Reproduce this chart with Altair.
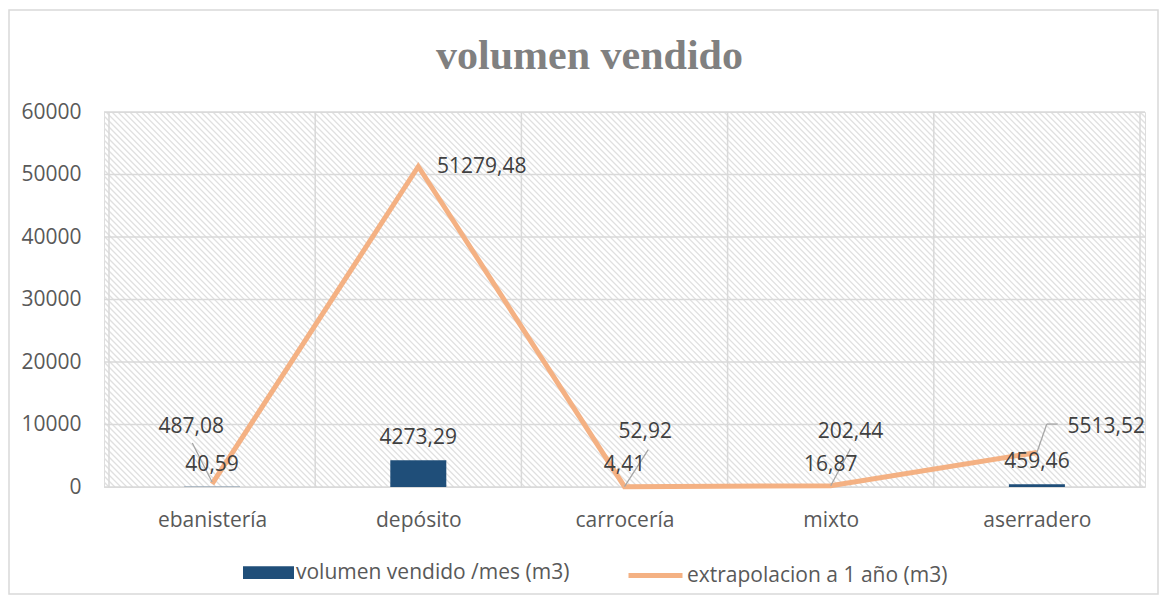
import json
import altair as alt
import pandas as pd

# ---------------- data ----------------
categories = ["ebanistería", "depósito", "carrocería", "mixto", "aserradero"]
monthly = [40.59, 4273.29, 4.41, 16.87, 459.46]        # volumen vendido /mes (m3)
yearly = [487.08, 51279.48, 52.92, 202.44, 5513.52]    # extrapolacion a 1 año (m3)
series_names = ["volumen vendido /mes (m3)", "extrapolacion a 1 año (m3)"]
y_ticks = [0, 10000, 20000, 30000, 40000, 50000, 60000]
chart_title = "volumen vendido"

# ---------------- style / layout ----------------
W, H = 1041, 375
Y_MAX = 60000
N = len(categories)
PX_X = W / N            # pixels per category unit
UNIT_Y = Y_MAX / H      # data units per pixel

BLUE = "#1f4e79"
ORANGE = "#f4b183"
GRID = "#d9d9d9"
HATCH = "#e0e0e0"
AXIS_TXT = "#595959"
LBL_TXT = "#404040"
FONT = "Open Sans"
FS = 21

bar_label_dy = -22
# label offsets (px) of the yearly labels, relative to the line points
yearly_label_off = [(-21, -57), (64, 0), (21, -55), (20, -54), (70, -26)]
# leader lines (px, relative to the line point)
leaders = {
    0: [((0, -2), (-20, -41))],
    2: [((0, 0), (24, -37))],
    3: [((0, 0), (20, -37))],
    4: [((0, 0), (10, -28.5)), ((10, -28.5), (21, -28.5))],
}


def fmt(v):
    return f"{v:.2f}".replace(".", ",")


base_df = pd.DataFrame({"idx": list(range(N)), "cat": categories,
                        "monthly": monthly, "yearly": yearly})

x_scale = alt.Scale(domain=[-0.5, N - 0.5], nice=False, zero=False)
y_scale = alt.Scale(domain=[0, Y_MAX], nice=False)

label_expr = json.dumps(categories, ensure_ascii=False) + "[datum.value]"

x_axis = alt.Axis(values=list(range(N)), labelExpr=label_expr, grid=False,
                  ticks=False, tickSize=0, domain=False, title=None,
                  labelFont=FONT, labelFontSize=FS, labelColor=AXIS_TXT,
                  labelPadding=22, orient="bottom")
y_axis = alt.Axis(values=y_ticks, format="d", grid=False, ticks=False,
                  tickSize=0, domain=False, title=None, labelFont=FONT,
                  labelFontSize=FS, labelColor=AXIS_TXT, labelPadding=23,
                  orient="left")

# hatch texture (background decoration)
step = 6
rows = []
k = 0
while k * step - H <= W:
    x0 = k * step - H
    rows.append({"hx": -0.5 + x0 / PX_X, "hx2": -0.5 + (x0 + H) / PX_X,
                 "hy": Y_MAX, "hy2": 0})
    k += 1
hatch_df = pd.DataFrame(rows)
hatch = alt.Chart(hatch_df).mark_rule(color=HATCH, strokeWidth=1.3, clip=True).encode(
    x=alt.X("hx:Q", scale=x_scale, axis=x_axis),
    x2="hx2:Q",
    y=alt.Y("hy:Q", scale=y_scale, axis=y_axis),
    y2="hy2:Q",
)

vgrid_df = pd.DataFrame({"b": [i - 0.5 for i in range(N + 1)]})
vgrid = alt.Chart(vgrid_df).mark_rule(color=GRID, strokeWidth=1.5).encode(
    x=alt.X("b:Q", scale=x_scale)
)
hgrid_df = pd.DataFrame({"t": y_ticks})
hgrid = alt.Chart(hgrid_df).mark_rule(color=GRID, strokeWidth=1.5).encode(
    y=alt.Y("t:Q", scale=y_scale)
)

bar_legend = alt.Legend(
    orient="none", legendX=139, legendY=435, title=None,
    symbolType="M-1,-0.25H1V0.25H-1Z", symbolSize=2601, symbolStrokeWidth=0,
    labelFont=FONT, labelFontSize=FS, labelColor=AXIS_TXT, labelOffset=2,
    labelLimit=500,
)
line_legend = alt.Legend(
    orient="none", legendX=522, legendY=434, title=None,
    symbolType="stroke", symbolSize=2916, symbolStrokeWidth=5,
    labelFont=FONT, labelFontSize=FS, labelColor=AXIS_TXT, labelOffset=2,
    labelLimit=500,
)

bar_df = base_df.assign(serie=series_names[0])
bars = alt.Chart(bar_df).mark_bar(size=56).encode(
    x=alt.X("idx:Q", scale=x_scale),
    y=alt.Y("monthly:Q", scale=y_scale),
    fill=alt.Fill("serie:N", scale=alt.Scale(domain=[series_names[0]], range=[BLUE]),
                  legend=bar_legend),
)

line_df = base_df.assign(serie=series_names[1])
line = alt.Chart(line_df).mark_line(strokeWidth=5, strokeJoin="miter", strokeCap="butt").encode(
    x=alt.X("idx:Q", scale=x_scale),
    y=alt.Y("yearly:Q", scale=y_scale),
    stroke=alt.Stroke("serie:N", scale=alt.Scale(domain=[series_names[1]], range=[ORANGE]),
                      legend=line_legend),
)

seg_rows = []
for i, segs in leaders.items():
    for (ax, ay), (bx, by) in segs:
        seg_rows.append({"lx": i + ax / PX_X, "ly": yearly[i] - ay * UNIT_Y,
                         "lx2": i + bx / PX_X, "ly2": yearly[i] - by * UNIT_Y})
lead_df = pd.DataFrame(seg_rows)
leads = alt.Chart(lead_df).mark_rule(color="#a6a6a6", strokeWidth=1.3).encode(
    x=alt.X("lx:Q", scale=x_scale), x2="lx2:Q",
    y=alt.Y("ly:Q", scale=y_scale), y2="ly2:Q",
)

lab_rows = []
for i in range(N):
    lab_rows.append({"tx": i, "ty": monthly[i] - bar_label_dy * UNIT_Y, "txt": fmt(monthly[i])})
    dx, dy = yearly_label_off[i]
    lab_rows.append({"tx": i + dx / PX_X, "ty": yearly[i] - dy * UNIT_Y, "txt": fmt(yearly[i])})
lab_df = pd.DataFrame(lab_rows)
labels = alt.Chart(lab_df).mark_text(font=FONT, fontSize=FS, color=LBL_TXT,
                                      align="center", baseline="middle").encode(
    x=alt.X("tx:Q", scale=x_scale),
    y=alt.Y("ty:Q", scale=y_scale),
    text="txt:N",
)

frame = alt.Chart(pd.DataFrame({"a": [0]})).mark_rect(
    fillOpacity=0, stroke=GRID, strokeWidth=1.5).encode(
    x=alt.value(-95), x2=alt.value(W + 13),
    y=alt.value(-102), y2=alt.value(H + 107),
)

chart = alt.layer(hatch, vgrid, hgrid, bars, line, leads, labels, frame).properties(
    width=W, height=H,
    title=alt.TitleParams(chart_title, font="Liberation Serif", fontSize=42,
                          fontWeight="bold", color="#808080", anchor="middle",
                          dx=-35, baseline="alphabetic", offset=-102),
    padding={"left": 96, "top": 104, "right": 14, "bottom": 108},
    autosize=alt.AutoSizeParams(type="none"),
).configure_view(stroke=None).configure(background="white")

chart.save("out.html", embed_options={"renderer": "svg", "actions": False})
